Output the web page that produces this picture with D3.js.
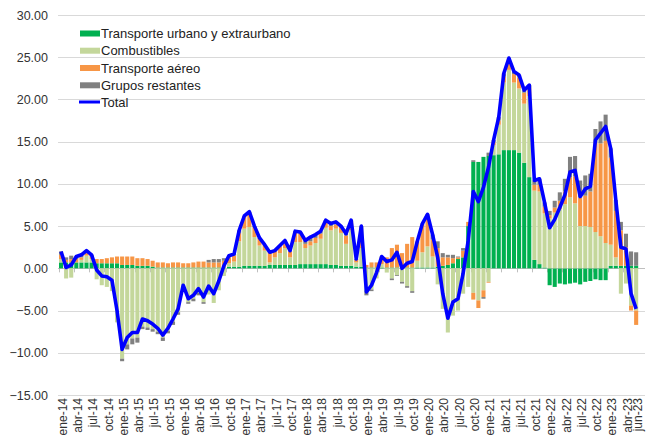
<!DOCTYPE html>
<html>
<head>
<meta charset="utf-8">
<script src="https://cdn.jsdelivr.net/npm/d3@7"></script>
<style>
  body { margin: 0; background: #fff; }
  text { font-family: "Liberation Sans", Arial, sans-serif; }
</style>
</head>
<body>
<div id="chart"></div>
<script>

// meses: ene-14 ... jun-23 (114)
var abrev = ["ene", "feb", "mar", "abr", "may", "jun", "jul", "ago", "sep", "oct", "nov", "dic"];
var anios = ["14", "15", "16", "17", "18", "19", "20", "21", "22", "23"];
var meses = [];
anios.forEach(function (a) {
  abrev.forEach(function (m) { meses.push(m + "-" + a); });
});
meses = meses.slice(0, 114);

var etiquetasX = ["ene-14", "abr-14", "jul-14", "oct-14", "ene-15", "abr-15", "jul-15", "oct-15",
  "ene-16", "abr-16", "jul-16", "oct-16", "ene-17", "abr-17", "jul-17", "oct-17",
  "ene-18", "abr-18", "jul-18", "oct-18", "ene-19", "abr-19", "jul-19", "oct-19",
  "ene-20", "abr-20", "jul-20", "oct-20", "ene-21", "abr-21", "jul-21", "oct-21",
  "ene-22", "abr-22", "jul-22", "oct-22", "ene-23", "abr-23", "jun-23"];

var ticksY = [-15, -10, -5, 0, 5, 10, 15, 20, 25, 30];

var urbano = [0.7, 0.7, 0.7, 0.7, 0.7, 0.7, 0.7, 0.6, 0.6, 0.6, 0.6, 0.6,
  0.4, 0.4, 0.4, 0.3, 0.3, 0.3, 0.2, 0.1, 0.1, 0.1, 0.1, 0.1,
  0.1, 0.1, 0.1, 0.1, 0.1, 0.1, 0.1, 0.1, 0.1, 0.2, 0.2, 0.2,
  0.3, 0.3, 0.3, 0.3, 0.3, 0.4, 0.4, 0.4, 0.4, 0.4, 0.4, 0.5,
  0.5, 0.5, 0.5, 0.5, 0.5, 0.4, 0.4, 0.3, 0.3, 0.3, 0.2, 0.2,
  0.1, 0.1, 0.1, 0.1, 0.1, 0.1, 0.1, 0.1, 0.1, 0.1, 0.1, 0.1,
  0.1, 0.1, 0.2, 0.3, 0.4, 0.6, 1.1, 1.3, 5.0, 12.6, 12.6, 13.2,
  13.3, 13.4, 13.5, 14.0, 14.0, 14.0, 13.7, 12.5, 10.8, 1.0, 0.5, 0.1,
  -2.0, -2.2, -1.8, -1.9, -1.8, -1.7, -1.9, -1.6, -1.5, -1.3, -1.4, -1.4,
  0.3, 0.3, 0.3, 0.3, 0.3, 0.3];

var combustibles = [0.4, -1.2, -1.1, 0.0, 0.3, 0.8, 0.4, -1.3, -2.0, -2.2, -2.7, -6.4,
  -10.7, -9.0, -8.3, -8.2, -6.9, -7.0, -7.2, -7.5, -8.2, -7.4, -6.3, -5.2,
  -2.6, -4.0, -3.6, -2.9, -4.0, -3.1, -4.1, -2.6, -0.9, 0.4, 0.6, 3.0,
  4.4, 4.6, 3.4, 2.4, 1.8, 0.3, 0.9, 1.4, 2.0, 0.9, 2.7, 2.6,
  1.9, 2.2, 2.5, 3.0, 4.3, 4.1, 4.3, 3.9, 2.6, 4.2, 0.5, 2.2,
  -2.6, -2.5, -1.2, 0.4, -0.5, -1.2, -0.8, -1.6, -2.1, -2.7, 0.8, 1.8,
  2.5, 1.3, -1.9, -4.8, -7.6, -5.6, -5.0, -3.0, -2.2, -2.9, -3.8, -2.6,
  -1.6, 1.2, 3.5, 8.0, 9.5, 8.0, 7.6, 7.0, 9.6, 8.2, 8.6, 6.4,
  5.9, 6.6, 7.0, 7.6, 8.4, 7.7, 5.0, 5.0, 4.9, 4.3, 3.8, 3.0,
  2.5, 1.0, -3.0, -1.8, -4.4, -5.0];

var aereo = [0.5, 0.3, 0.4, 0.4, 0.3, 0.3, 0.3, 0.5, 0.5, 0.6, 0.7, 0.8,
  1.0, 1.0, 1.0, 0.9, 0.9, 0.8, 0.7, 0.6, 0.6, 0.5, 0.6, 0.6,
  0.5, 0.5, 0.6, 0.7, 0.7, 0.6, 0.6, 0.6, 0.8, 0.7, 0.7, 1.0,
  1.5, 1.6, 1.2, 0.9, 0.7, 1.2, 0.8, 0.8, 0.8, 0.7, 1.1, 1.0,
  0.5, 0.5, 0.6, 0.6, 0.6, 0.5, 0.5, 0.6, 1.0, 1.0, 0.3, 0.8,
  0.3, 0.6, 0.6, 0.8, 1.2, 2.3, 2.7, 1.7, 2.8, 3.6, 2.3, 3.3,
  3.6, 2.0, 2.2, 1.0, 0.9, 0.6, 0.2, 0.8, 0.5, -0.8, -0.9, -0.8,
  -0.1, 0.3, 0.5, 0.7, 1.1, 1.0, 1.3, 1.3, 1.0, 0.7, 0.8, 0.8,
  0.4, 0.6, 1.0, 1.5, 2.4, 3.2, 3.4, 3.6, 4.2, 10.6, 11.0, 12.1,
  10.3, 5.5, 4.2, 2.2, -0.6, -1.7];

var restantes = [0.4, 0.3, 0.4, 0.3, 0.3, 0.3, 0.2, 0.0, 0.0, 0.0, 0.0, 0.0,
  -0.3, -0.6, -0.7, -0.6, -0.3, -0.3, -0.3, -0.3, -0.4, -0.3, -0.4, -0.3,
  0.0, -0.2, -0.3, -0.3, -0.2, 0.3, 0.4, 0.4, 0.3, 0.2, 0.2, 0.3,
  0.0, 0.2, 0.1, 0.0, 0.0, 0.0, 0.0, 0.1, 0.1, 0.1, 0.2, 0.2,
  0.4, 0.5, 0.4, 0.3, 0.3, 0.3, 0.3, 0.2, 0.2, 0.2, 0.1, 1.8,
  -0.6, -0.2, 0.0, 0.1, 0.0, -0.2, -0.1, -0.2, -0.2, -0.2, 0.0, 0.1,
  0.2, 0.6, 0.8, 0.5, 0.3, 0.4, 0.1, 0.3, 0.0, 0.2, 0.0, -0.2,
  0.4, 0.3, 0.4, 0.4, 0.3, 0.3, 0.3, 0.3, 0.3, 0.5, 0.7, 0.5,
  0.5, 0.8, 1.0, 1.5, 2.4, 2.4, 2.0, 2.4, 2.1, 1.6, 2.6, 3.1,
  1.1, 1.3, 1.0, 1.6, 1.7, 1.6];

var total = [2.0, 0.1, 0.4, 1.4, 1.6, 2.1, 1.6, -0.2, -0.9, -1.0, -1.4, -5.0,
  -9.6, -8.2, -7.6, -7.6, -6.0, -6.2, -6.6, -7.1, -7.9, -7.1, -6.0, -4.8,
  -2.0, -3.6, -3.2, -2.4, -3.4, -2.1, -3.0, -1.5, 0.3, 1.5, 1.7, 4.5,
  6.2, 6.7, 5.0, 3.6, 2.8, 1.9, 2.1, 2.7, 3.3, 2.1, 4.4, 4.3,
  3.3, 3.7, 4.0, 4.4, 5.7, 5.3, 5.5, 5.0, 4.1, 5.7, 1.1, 5.0,
  -2.8, -2.0, -0.5, 1.4, 0.8, 1.0, 1.9, 0.0, 0.6, 0.8, 3.2, 5.3,
  6.4, 4.0, 1.3, -3.0, -5.9, -4.0, -3.6, -0.6, 3.3, 9.1, 7.9, 9.6,
  12.0, 15.2, 17.9, 23.1, 24.9, 23.3, 22.9, 21.1, 21.7, 10.4, 10.6, 7.8,
  4.8, 5.8, 7.2, 8.7, 11.4, 11.6, 8.5, 9.4, 9.7, 15.2, 16.0, 16.8,
  14.2, 8.1, 2.5, 2.3, -3.0, -4.8];

var series = ["Transporte urbano y extraurbano", "Combustibles", "Transporte aéreo", "Grupos restantes"];
var colores = ["#00b050", "#c4d79b", "#f79646", "#808080"];

var width = 646,
  height = 448;

var svg = d3.select("#chart")
  .append("svg")
  .attr("width", width)
  .attr("height", height);

// tabla para el stack
var tabla = meses.map(function (m, i) {
  var d = { mes: m };
  d[series[0]] = urbano[i];
  d[series[1]] = combustibles[i];
  d[series[2]] = aereo[i];
  d[series[3]] = restantes[i];
  return d;
});

var x = d3.scaleBand()
  .domain(meses)
  .range([58.5, 638.7])
  .paddingInner(0.2)
  .paddingOuter(0.1);

var y = d3.scaleLinear()
  .domain([-15, 30])
  .range([395, 15]);

// gridlines
svg.append("g")
  .selectAll("line")
  .data(ticksY)
  .enter().append("line")
  .attr("x1", 58)
  .attr("x2", 645)
  .attr("y1", function (d) { return Math.round(y(d)) + 0.5; })
  .attr("y2", function (d) { return Math.round(y(d)) + 0.5; })
  .attr("stroke", "#d9d9d9")
  .attr("stroke-width", 1);

// eje y
var ejeY = d3.axisLeft(y)
  .tickValues(ticksY)
  .tickFormat(d3.format(".2f"))
  .tickSize(0)
  .tickPadding(0);

svg.append("g")
  .attr("transform", "translate(48,0)")
  .call(ejeY)
  .call(function (g) { g.select(".domain").remove(); })
  .selectAll("text")
  .attr("font-size", "12.5px")
  .attr("fill", "#333")
  .attr("font-family", "Liberation Sans, Arial, sans-serif");

// linea del eje en cero con marcas cada 3 meses
var paso = x.step();
svg.append("line")
  .attr("x1", 58)
  .attr("x2", 645)
  .attr("y1", Math.round(y(0)) + 0.5)
  .attr("y2", Math.round(y(0)) + 0.5)
  .attr("stroke", "#bfbfbf");

svg.append("g")
  .selectAll("line")
  .data(etiquetasX)
  .enter().append("line")
  .attr("x1", function (d) { return Math.round(x(d) - (paso - x.bandwidth()) / 2) + 0.5; })
  .attr("x2", function (d) { return Math.round(x(d) - (paso - x.bandwidth()) / 2) + 0.5; })
  .attr("y1", y(0))
  .attr("y2", y(0) + 4)
  .attr("stroke", "#bfbfbf");

// barras apiladas
var stack = d3.stack()
  .keys(series)
  .offset(d3.stackOffsetDiverging);

var capas = stack(tabla);

svg.append("g")
  .selectAll("g")
  .data(capas)
  .enter().append("g")
  .attr("fill", function (d, i) { return colores[i]; })
  .selectAll("rect")
  .data(function (d) { return d; })
  .enter().append("rect")
  .attr("x", function (d) { return x(d.data.mes); })
  .attr("width", x.bandwidth())
  .attr("y", function (d) { return y(Math.max(d[0], d[1])); })
  .attr("height", function (d) { return Math.abs(y(d[0]) - y(d[1])); });

// linea total
var linea = d3.line()
  .x(function (d, i) { return x(meses[i]) + x.bandwidth() / 2; })
  .y(function (d) { return y(d); });

svg.append("path")
  .datum(total)
  .attr("d", linea)
  .attr("fill", "none")
  .attr("stroke", "#0000ff")
  .attr("stroke-width", 3.6)
  .attr("stroke-linejoin", "round");

// etiquetas eje x
svg.append("g")
  .selectAll("text")
  .data(etiquetasX)
  .enter().append("text")
  .attr("transform", function (d) {
    return "translate(" + (x(d) + x.bandwidth() / 2 + 1.5) + ",398) rotate(-90)";
  })
  .attr("text-anchor", "end")
  .attr("dy", "0.35em")
  .attr("font-size", "12px")
  .attr("fill", "#333")
  .text(function (d) { return d; });

// leyenda
var leyenda = svg.append("g");
var filaY = [33.5, 50.7, 68, 85.3, 102];

series.forEach(function (s, i) {
  leyenda.append("rect")
    .attr("x", 80)
    .attr("y", filaY[i] - 3)
    .attr("width", 20)
    .attr("height", 6)
    .attr("fill", colores[i]);
  leyenda.append("text")
    .attr("x", 101)
    .attr("y", filaY[i])
    .attr("dy", "0.35em")
    .attr("font-size", "13px")
    .attr("fill", "#222")
    .text(s);
});

leyenda.append("line")
  .attr("x1", 79)
  .attr("x2", 100)
  .attr("y1", filaY[4])
  .attr("y2", filaY[4])
  .attr("stroke", "#0000ff")
  .attr("stroke-width", 3);
leyenda.append("text")
  .attr("x", 101)
  .attr("y", filaY[4])
  .attr("dy", "0.35em")
  .attr("font-size", "13px")
  .attr("fill", "#222")
  .text("Total");

</script>
</body>
</html>
